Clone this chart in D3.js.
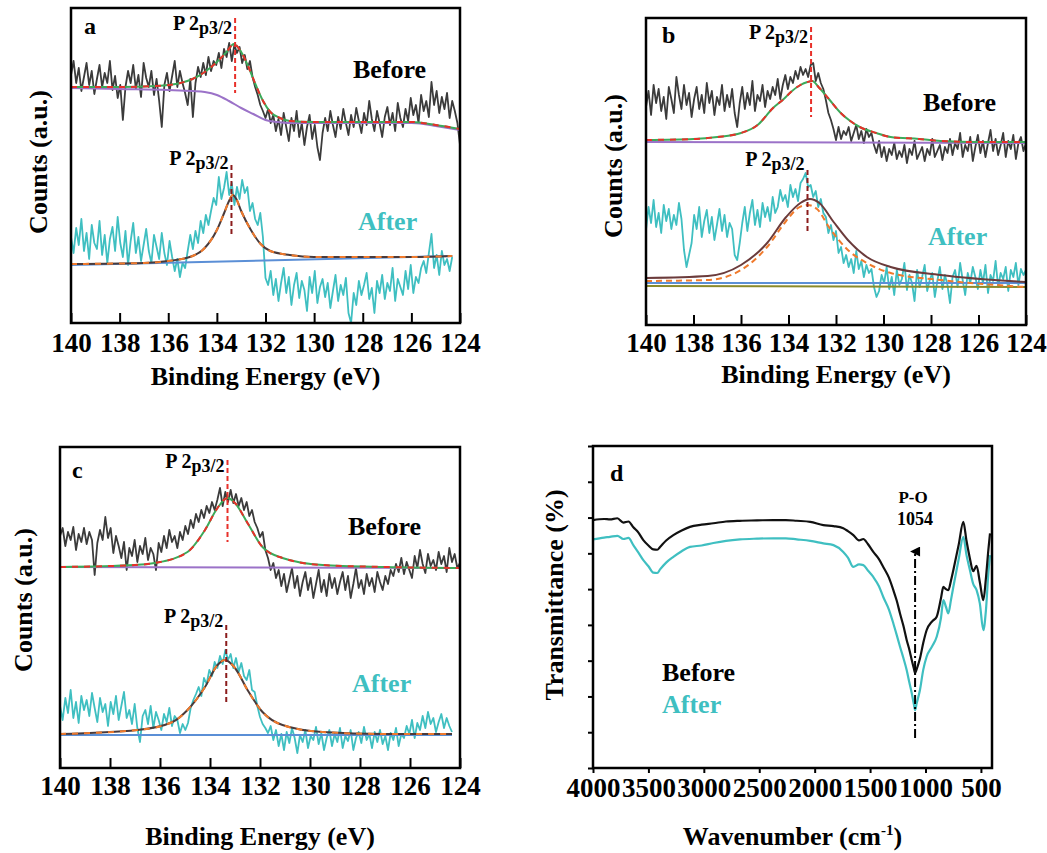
<!DOCTYPE html>
<html>
<head>
<meta charset="utf-8">
<script src="https://cdn.jsdelivr.net/npm/d3@7"></script>
<style>
  body { margin: 0; background: #fff; }
  svg text { font-family: "Liberation Serif", "Times New Roman", "DejaVu Serif", serif; font-weight: bold; fill: #000; }
</style>
</head>
<body>
<svg id="chart" width="1047" height="853"></svg>
<script>
// ---------- data (counts in a.u.) ----------
const xpsTicks = [140, 138, 136, 134, 132, 130, 128, 126, 124];

// panel a
const aBeforeRange = [140, 124];
const aBefore = [
  248, 262, 240, 255, 232, 246, 260, 238, 252, 229,
  244, 258, 236, 250, 240, 262, 233, 247, 225, 238,
  203, 236, 252, 240, 258, 234, 248, 226, 260, 245,
  236, 252, 228, 244, 222, 196, 238, 250, 232, 247,
  262, 236, 252, 240, 230, 218, 244, 206, 240, 256,
  246, 260, 248, 266, 252, 262, 258, 270, 255, 274,
  266, 280, 262, 278, 270, 276, 260, 268, 254, 262,
  246, 236, 228, 218, 212, 205, 214, 200, 208, 192,
  204, 188, 210, 196, 182, 205, 192, 212, 186, 200,
  178, 196, 208, 184, 198, 176, 163, 190, 205, 192,
  212, 198, 186, 206, 194, 214, 200, 188, 208, 196,
  215, 202, 190, 210, 198, 222, 204, 192, 212, 200,
  186, 206, 216, 198, 210, 192, 220, 205, 196, 214,
  202, 225, 208, 218, 200, 228, 212, 222, 206, 241,
  218, 232, 210, 226, 214, 230, 205, 222, 212, 200,
  178];
const aAfterRange = [140, 124.32];
const aAfter = [
  86, 70, 95, 78, 104, 72, 90, 64, 98, 80,
  74, 102, 68, 88, 60, 84, 96, 72, 106, 80,
  66, 92, 58, 82, 100, 70, 86, 62, 78, 94,
  72, 60, 88, 76, 64, 90, 70, 58, 82, 66,
  52, 64, 46, 60, 55, 72, 88, 74, 92, 80,
  102, 90, 108, 98, 112, 125, 118, 146, 124, 135,
  151, 128, 140, 118, 136, 124, 143, 130, 136, 112,
  120, 104, 98, 110, 86, 45, 38, 52, 28, 44,
  22, 40, 55, 30, 46, 18, 38, 50, 25, 42,
  33, 12, 46, 30, 52, 20, 36, 44, 26, 40,
  15, 32, 48, 22, 38, 28, 45, 10, 0, 30,
  18, 42, 28, 38, 50, 24, 35, 10, 42, 30,
  48, 24, 40, 32, 55, 22, 44, 36, 28, 52,
  34, 58, 30, 46, 40, 55, 62, 50, 70, 89,
  55, 68, 48, 72, 58, 64, 52, 66];
const aBgBeforeE = [140, 138, 136, 135, 134.5, 134, 133.5, 133, 132.5, 132, 131.5, 131, 128, 126, 125.5, 125, 124.5, 124];
const aBgBefore = [235, 234, 233, 232, 231, 228, 222, 215, 209, 203, 201, 200, 200, 200, 199, 197, 195, 193];
const aFitBeforeE = [140, 138, 136.5, 135.5, 135, 134.5, 134, 133.6, 133.3, 133, 132.7, 132.4, 132.1, 131.8, 131.4, 131, 130, 128, 126, 125, 124];
const aFitBefore = [236, 236, 237, 240, 244, 251, 261, 271, 279, 271, 256, 238, 222, 211, 205, 202, 201, 201, 201, 198, 194];
const aBgAfterE = [140, 124.32];
const aBgAfter = [58, 67];
const aFitAfterE = [140, 137, 136, 135, 134.5, 134, 133.7, 133.5, 133.35, 133.2, 133, 132.6, 132.2, 131.8, 131, 130, 128, 126, 124.32];
const aFitAfter = [59, 60, 62, 67, 75, 93, 110, 122, 128, 124, 112, 93, 79, 72, 68, 66, 66, 66, 67];

// panel b
const bBeforeRange = [140, 124];
const bBefore = [
  218, 234, 210, 240, 222, 236, 214, 228, 206, 238,
  226, 212, 248, 230, 216, 240, 220, 232, 208, 226,
  238, 216, 230, 212, 242, 222, 234, 210, 228, 220,
  240, 214, 230, 218, 236, 212, 198, 222, 238, 216,
  232, 220, 244, 214, 230, 224, 240, 218, 234, 226,
  238, 230, 246, 226, 240, 250, 236, 248, 242, 254,
  246, 258, 250, 256, 248, 260, 262, 244, 252, 242,
  236, 225, 212, 205, 196, 185, 198, 186, 194, 190,
  198, 184, 192, 200, 186, 194, 182, 196, 188, 192,
  180, 172, 184, 168, 178, 164, 176, 170, 182, 166,
  174, 168, 180, 162, 176, 170, 184, 166, 172, 178,
  164, 176, 170, 186, 168, 174, 180, 165, 178, 172,
  186, 170, 182, 176, 192, 168, 180, 174, 188, 164,
  178, 190, 172, 184, 168, 182, 195, 174, 186, 170,
  180, 192, 168, 184, 176, 190, 166, 182, 188, 174,
  182];
const bAfterRange = [140, 124];
const bAfter = [
  95, 118, 102, 125, 98, 112, 92, 120, 104, 116,
  96, 110, 100, 122, 106, 75, 58, 70, 82, 110,
  96, 118, 88, 104, 115, 92, 108, 85, 100, 116,
  94, 110, 88, 102, 96, 70, 65, 82, 102, 118,
  94, 112, 125, 100, 115, 98, 122, 108, 118, 104,
  128, 112, 118, 135, 124, 130, 118, 140, 128, 136,
  124, 142, 146, 152, 138, 140, 128, 134, 118, 126,
  112, 108, 92, 100, 85, 94, 72, 78, 62, 70,
  58, 66, 52, 74, 56, 64, 48, 60, 52, 56,
  38, 28, 34, 50, 42, 58, 36, 48, 30, 55,
  40, 46, 62, 35, 50, 42, 24, 55, 38, 48,
  60, 34, 45, 52, 28, 44, 58, 36, 50, 40,
  22, 48, 55, 38, 62, 45, 30, 52, 42, 58,
  48, 36, 55, 42, 60, 32, 50, 44, 64, 38,
  52, 46, 58, 34, 55, 48, 62, 40, 56, 50,
  55];
const bBgBeforeE = [140, 124];
const bBgBefore = [183, 182];
const bFitBeforeE = [140, 138, 137, 136, 135.3, 134.65, 134.2, 133.9, 133.5, 133.2, 133.0, 132.7, 132.3, 131.8, 131.4, 131.0, 130.3, 129.7, 128.5, 127.6, 126, 124];
const bFitBefore = [185, 186, 188, 192, 200, 217, 226, 233, 240, 243, 244, 237, 226, 212, 204, 198, 192, 188, 186, 184, 183, 183];
const bBgAfterE = [140, 124];
const bBgAfter = [42, 42];
const bBg2After = [39, 38];
const bFitAfterE = [140, 137.4, 136, 134.9, 134.1, 133.5, 133.1, 132.7, 132.1, 131.5, 130.7, 129.7, 127.6, 124];
const bFitAfter = [47, 49, 60, 82, 108, 122, 126, 122, 103, 85, 68, 58, 50, 43];
const bFit2AfterE = [140, 137.4, 136, 134.9, 134.1, 133.6, 133.2, 132.8, 132.3, 131.5, 130.7, 129.7, 127.6, 124];
const bFit2After = [44, 45, 55, 78, 104, 117, 120, 116, 98, 75, 62, 52, 45, 38];

// panel c
const cBeforeRange = [140, 124];
const cBefore = [
  232, 240, 222, 236, 228, 241, 218, 234, 226, 240,
  224, 236, 228, 193, 225, 238, 228, 251, 230, 240,
  215, 232, 222, 210, 226, 198, 220, 212, 228, 206,
  222, 214, 230, 208, 220, 214, 198, 225, 216, 232,
  220, 238, 226, 232, 220, 236, 228, 242, 234, 248,
  240, 254, 246, 258, 250, 262, 255, 266, 258, 268,
  280, 262, 276, 266, 278, 265, 274, 262, 270, 258,
  266, 252, 258, 246, 240, 231, 236, 218, 210, 198,
  205, 190, 198, 182, 194, 176, 188, 200, 180, 192,
  172, 186, 196, 178, 190, 170, 184, 198, 176, 188,
  172, 194, 180, 190, 174, 186, 196, 178, 192, 170,
  184, 200, 180, 188, 174, 194, 182, 190, 176, 196,
  186, 178, 192, 184, 198, 192, 204, 196, 210, 194,
  206, 198, 190, 212, 200, 218, 204, 195, 214, 202,
  208, 198, 216, 204, 212, 196, 220, 206, 214, 200,
  205];
const cAfterRange = [140, 124.32];
const cAfter = [
  62, 48, 70, 55, 78, 50, 66, 45, 72, 58,
  68, 52, 75, 60, 46, 70, 56, 64, 42, 66,
  54, 72, 48, 62, 76, 50, 58, 44, 64, 40,
  26, 52, 58, 44, 62, 40, 56, 48, 38, 54,
  46, 60, 42, 52, 48, 35, 44, 38, 45, 60,
  68, 74, 81, 72, 90, 84, 98, 92, 106, 100,
  112, 104, 118, 108, 114, 100, 110, 96, 105, 92,
  88, 98, 78, 76, 62, 51, 44, 40, 35, 42,
  28, 38, 22, 34, 18, 36, 25, 40, 30, 15,
  33, 26, 38, 20, 32, 28, 41, 24, 35, 18,
  30, 38, 22, 34, 26, 40, 20, 32, 27, 38,
  18, 30, 36, 25, 41, 28, 34, 20, 36, 26,
  38, 24, 32, 18, 35, 28, 40, 22, 34, 30,
  42, 34, 48, 30, 45, 38, 52, 40, 56, 44,
  50, 36, 46, 54, 40, 50, 42, 36];
const cBgBeforeE = [140, 124];
const cBgBefore = [201, 200];
const cFitBeforeE = [140, 137, 136.2, 134.9, 134.2, 133.7, 133.3, 133.0, 132.5, 131.9, 131.1, 129.5, 127, 124];
const cFitBefore = [201, 203, 205, 216, 238, 260, 270, 265, 245, 221, 210, 203, 201, 200];
const cBgAfterE = [140, 124.32];
const cBgAfter = [33, 33];
const cFitAfterE = [140, 136.9, 135.5, 134.9, 134.2, 133.7, 133.4, 133.0, 132.5, 131.9, 131.1, 129.5, 127, 124.32];
const cFitAfter = [34, 38, 46, 58, 81, 103, 108, 100, 78, 56, 43, 36, 34, 34];

// panel d (FTIR, transmittance %)
const ftirTicks = [4000, 3500, 3000, 2500, 2000, 1500, 1000, 500];
const ftirWave = [4000, 3900, 3847, 3780, 3726, 3680, 3636, 3590, 3546, 3500, 3456, 3420, 3395, 3340, 3275, 3200, 3125, 3020, 2914, 2800,
  2674, 2520, 2373, 2260, 2162, 2040, 1922, 1830, 1742, 1700, 1651, 1600, 1561, 1520, 1471, 1420, 1381, 1330, 1290, 1260,
  1230, 1200, 1170, 1145, 1124, 1105, 1094, 1080, 1050, 1020, 990, 940, 899, 860, 839, 815, 794, 770, 749, 700,
  659, 630, 599, 570, 539, 510, 478, 455, 433, 418];
const ftirBefore = [69.3, 69.6, 69.5, 69.8, 68.6, 68.9, 67.3, 65.8, 63.7, 62.2, 61.1, 61.0, 61.8, 63.6, 65.1, 66.4, 67.4, 68.0, 68.4, 68.9,
  69.1, 69.2, 69.3, 69.3, 69.1, 68.8, 67.9, 67.6, 67.0, 66.2, 65.1, 63.6, 64.0, 62.6, 60.4, 58.4, 56.2, 53.2, 49.7, 46.8,
  43.2, 39.8, 35.8, 33.0, 30.2, 27.8, 26.5, 27.6, 30.6, 35.0, 38.5, 41.0, 42.3, 47.5, 50.6, 50.0, 49.7, 52.4, 55.3, 62.5,
  68.8, 63.5, 58.5, 55.0, 56.5, 52.0, 46.9, 53.0, 60.9, 65.6];
const ftirAfter = [63.9, 64.4, 64.6, 64.9, 64.0, 64.3, 62.3, 60.2, 58.1, 56.4, 54.6, 54.5, 55.5, 57.4, 59.0, 60.6, 61.8, 62.2, 62.9, 63.5,
  63.9, 64.1, 64.2, 64.2, 63.9, 63.5, 62.8, 62.3, 60.4, 58.8, 56.2, 56.9, 56.7, 55.2, 53.4, 50.8, 47.8, 44.3, 40.4, 37.2,
  33.9, 30.8, 27.4, 23.8, 20.9, 17.8, 16.2, 18.0, 21.8, 27.5, 31.1, 34.0, 36.7, 42.0, 46.9, 45.0, 43.2, 47.0, 50.6, 58.5,
  64.6, 59.5, 55.3, 51.5, 49.7, 46.0, 38.5, 44.0, 54.4, 59.5];

// ---------- drawing ----------
const svg = d3.select('#chart');
const grey = '#3b3b3b', teal = '#3fbfc1', purple = '#9b72c8', blue = '#5b8fd6';
const red = '#e8302a', green = '#3caa5a', orange = '#f07a2c', darkRed = '#8b1c1c';

function pairs(xs, ys) { return xs.map((e, i) => [e, ys[i]]); }
function grid(range, vals) {
  return vals.map((v, i) => [range[0] + (range[1] - range[0]) * i / (vals.length - 1), v]);
}

function frame(box) {
  svg.append('rect')
    .attr('x', box.left).attr('y', box.top)
    .attr('width', box.right - box.left).attr('height', box.bottom - box.top)
    .attr('fill', 'none').attr('stroke', '#000').attr('stroke-width', 2.5);
}

function label(x, y, txt, size, color) {
  return svg.append('text').attr('x', x).attr('y', y)
    .style('font-size', size + 'px').style('fill', color || '#000').text(txt);
}

function peakLabel(xEnd, yBase) {
  let t = svg.append('text').attr('x', xEnd).attr('y', yBase)
    .attr('text-anchor', 'end').style('font-size', '20px');
  t.append('tspan').text('P 2');
  t.append('tspan').attr('dy', 4).style('font-size', '18px').text('p3/2');
}

function xpsPanel(box, p) {
  let x = d3.scaleLinear().domain([140, 124]).range([box.left, box.right]);
  let y = d3.scaleLinear().domain([0, box.bottom - box.top]).range([box.bottom, box.top]);
  let raw = d3.line().x(d => x(d[0])).y(d => y(d[1]));
  let smooth = d3.line().x(d => x(d[0])).y(d => y(d[1])).curve(d3.curveMonotoneX);

  function path(data, gen, color, w, dash, offset) {
    svg.append('path').datum(data).attr('d', gen)
      .attr('fill', 'none').attr('stroke', color).attr('stroke-width', w)
      .attr('stroke-dasharray', dash || null).attr('stroke-dashoffset', offset || 0)
      .attr('stroke-linejoin', 'round');
  }

  // spectra
  path(p.before, raw, grey, 1.8);
  path(p.after, raw, teal, 1.8);
  // backgrounds
  path(p.bgBefore, smooth, purple, 2);
  path(p.bgAfter, raw, blue, 2);
  if (p.bg2After) path(p.bg2After, raw, '#8a8a2a', 2);
  // fits
  path(p.fitBefore, smooth, green, 2);
  path(p.fitBefore, smooth, red, 2, '6,6');
  if (p.fit2After) {
    path(p.fitAfter, smooth, '#6b3b3b', 2);
    path(p.fit2After, smooth, orange, 2, '6,4');
  } else {
    path(p.fitAfter, smooth, '#4a3a3a', 2);
    path(p.fitAfter, smooth, orange, 2, '6,6');
  }

  // peak markers
  p.markers.forEach(m => {
    svg.append('line')
      .attr('x1', x(m.e)).attr('x2', x(m.e))
      .attr('y1', y(m.from)).attr('y2', y(m.to))
      .attr('stroke', m.color).attr('stroke-width', 2).attr('stroke-dasharray', '5,3');
    peakLabel(x(m.e) - 3, m.labelY);
  });

  frame(box);

  let ax = svg.append('g')
    .attr('transform', 'translate(0,' + box.bottom + ')')
    .call(d3.axisBottom(x).tickValues(xpsTicks).tickSize(-10).tickFormat(d3.format('d')));
  ax.select('.domain').remove();
  ax.attr('font-family', null).attr('font-size', null);
  ax.selectAll('.tick line').attr('stroke', '#000').attr('stroke-width', 2);
  ax.selectAll('.tick text').attr('dy', null).attr('y', box.tickY).style('font-size', '27px');

  svg.append('text')
    .attr('x', (box.left + box.right) / 2).attr('y', box.bottom + box.xLabelY)
    .attr('text-anchor', 'middle').style('font-size', '26px').text('Binding Energy (eV)');
  svg.append('text')
    .attr('transform', 'translate(' + (box.left - box.yLabelX) + ',' + box.yLabelMid + ') rotate(-90)')
    .attr('text-anchor', 'middle').style('font-size', '26px').text('Counts (a.u.)');

  label(box.left + box.letter[0], box.top + box.letter[1], p.letter, 24);
  label(p.beforeAt[0], p.beforeAt[1], 'Before', 26);
  label(p.afterAt[0], p.afterAt[1], 'After', 26, teal);
}

xpsPanel(
  {left: 71, right: 460, top: 8, bottom: 323, tickY: 29, xLabelY: 62, yLabelX: 24, yLabelMid: 162, letter: [13, 26]},
  {
    letter: 'a',
    before: grid(aBeforeRange, aBefore), after: grid(aAfterRange, aAfter),
    bgBefore: pairs(aBgBeforeE, aBgBefore), bgAfter: pairs(aBgAfterE, aBgAfter),
    fitBefore: pairs(aFitBeforeE, aFitBefore), fitAfter: pairs(aFitAfterE, aFitAfter),
    markers: [
      {e: 133.25, from: 305, to: 230, color: red, labelY: 30},
      {e: 133.4, from: 158, to: 86, color: darkRed, labelY: 165}
    ],
    beforeAt: [353, 78], afterAt: [358, 230]
  });

xpsPanel(
  {left: 646, right: 1026, top: 18, bottom: 325, tickY: 27, xLabelY: 58, yLabelX: 24, yLabelMid: 166, letter: [16, 25]},
  {
    letter: 'b',
    before: grid(bBeforeRange, bBefore), after: grid(bAfterRange, bAfter),
    bgBefore: pairs(bBgBeforeE, bBgBefore), bgAfter: pairs(bBgAfterE, bBgAfter),
    bg2After: pairs(bBgAfterE, bBg2After),
    fitBefore: pairs(bFitBeforeE, bFitBefore), fitAfter: pairs(bFitAfterE, bFitAfter),
    fit2After: pairs(bFit2AfterE, bFit2After),
    markers: [
      {e: 133.05, from: 298, to: 208, color: red, labelY: 39},
      {e: 133.2, from: 155, to: 92, color: darkRed, labelY: 166}
    ],
    beforeAt: [923, 111], afterAt: [928, 245]
  });

xpsPanel(
  {left: 60, right: 460, top: 447, bottom: 768, tickY: 27, xLabelY: 77, yLabelX: 28, yLabelMid: 600, letter: [12, 31]},
  {
    letter: 'c',
    before: grid(cBeforeRange, cBefore), after: grid(cAfterRange, cAfter),
    bgBefore: pairs(cBgBeforeE, cBgBefore), bgAfter: pairs(cBgAfterE, cBgAfter),
    fitBefore: pairs(cFitBeforeE, cFitBefore), fitAfter: pairs(cFitAfterE, cFitAfter),
    markers: [
      {e: 133.3, from: 308, to: 226, color: red, labelY: 468},
      {e: 133.35, from: 143, to: 66, color: darkRed, labelY: 623}
    ],
    beforeAt: [348, 535], afterAt: [352, 692]
  });

// panel d
(function () {
  let box = {left: 593, right: 992, top: 446, bottom: 768};
  let x = d3.scaleLinear().domain([4000, 400]).range([box.left, box.right]);
  let y = d3.scaleLinear().domain([0, 90]).range([box.bottom, box.top]);
  let line = d3.line().x(d => x(d[0])).y(d => y(d[1])).curve(d3.curveMonotoneX);

  svg.append('path').datum(pairs(ftirWave, ftirAfter)).attr('d', line)
    .attr('fill', 'none').attr('stroke', teal).attr('stroke-width', 2.2);
  svg.append('path').datum(pairs(ftirWave, ftirBefore)).attr('d', line)
    .attr('fill', 'none').attr('stroke', '#111').attr('stroke-width', 2.2);

  // P-O arrow
  let poWave = 1094;
  svg.append('defs').append('marker')
    .attr('id', 'arrow').attr('viewBox', '0 0 10 10').attr('refX', 5).attr('refY', 5)
    .attr('markerWidth', 5).attr('markerHeight', 6).attr('markerUnits', 'strokeWidth').attr('orient', 'auto')
    .append('path').attr('d', 'M0,10 L5,0 L10,10 Z').attr('fill', '#000');
  svg.append('line')
    .attr('x1', x(poWave)).attr('x2', x(poWave))
    .attr('y1', y(8.4)).attr('y2', y(60.5))
    .attr('stroke', '#000').attr('stroke-width', 2).attr('stroke-dasharray', '9,3,2,3')
    .attr('marker-end', 'url(#arrow)');
  svg.append('text').attr('x', x(poWave) - 2).attr('y', 503).attr('text-anchor', 'middle')
    .style('font-size', '17px').text('P-O');
  svg.append('text').attr('x', x(poWave)).attr('y', 525).attr('text-anchor', 'middle')
    .style('font-size', '18px').text('1054');

  frame(box);

  let ax = svg.append('g').attr('transform', 'translate(0,' + box.bottom + ')')
    .call(d3.axisBottom(x).tickValues(ftirTicks).tickSize(5).tickFormat(d3.format('d')));
  ax.select('.domain').remove();
  ax.attr('font-family', null).attr('font-size', null);
  ax.selectAll('.tick line').attr('stroke', '#000').attr('stroke-width', 2);
  ax.selectAll('.tick text').attr('dy', null).attr('y', 29).style('font-size', '27px');

  let ay = svg.append('g').attr('transform', 'translate(' + box.left + ',0)')
    .call(d3.axisLeft(y).tickValues(d3.range(0, 91, 10)).tickSize(5).tickFormat(''));
  ay.select('.domain').remove();
  ay.selectAll('.tick line').attr('stroke', '#000').attr('stroke-width', 2);

  svg.append('text')
    .attr('x', (box.left + box.right) / 2).attr('y', 845).attr('text-anchor', 'middle')
    .style('font-size', '26px')
    .call(t => {
      t.append('tspan').text('Wavenumber (cm');
      t.append('tspan').attr('dy', -10).style('font-size', '15px').text('-1');
      t.append('tspan').attr('dy', 10).text(')');
    });
  svg.append('text')
    .attr('transform', 'translate(563,595) rotate(-90)')
    .attr('text-anchor', 'middle').style('font-size', '26px').text('Transmittance (%)');

  label(610, 481, 'd', 24);
  label(662, 681, 'Before', 26);
  label(662, 713, 'After', 26, teal);
})();
</script>
</body>
</html>
